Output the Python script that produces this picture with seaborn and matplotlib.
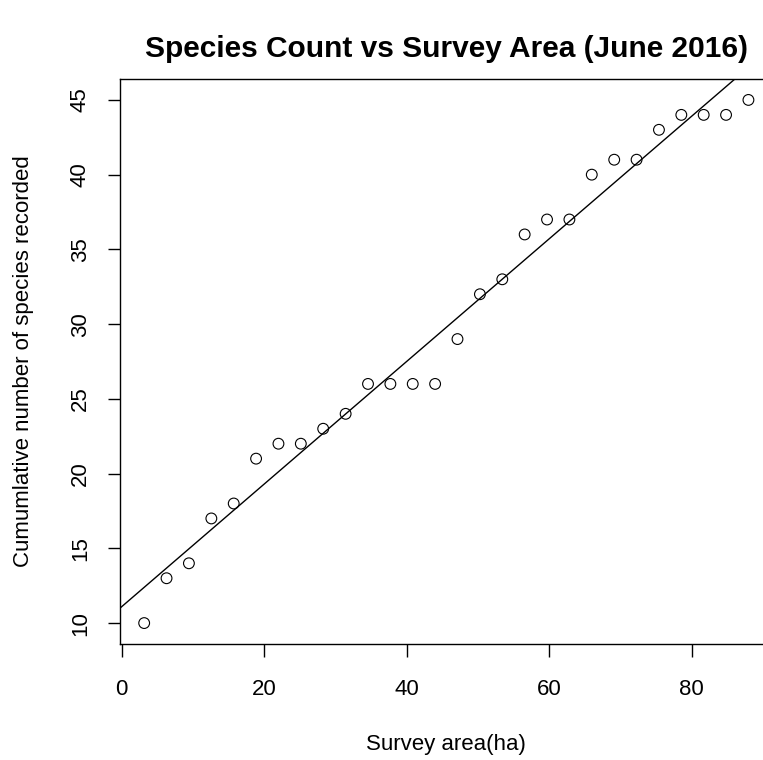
import numpy as np
import pandas as pd
import matplotlib
matplotlib.use('Agg')
import matplotlib.pyplot as plt
import seaborn as sns

# Survey data
area_ha = [3.14, 6.28, 9.42, 12.57, 15.71, 18.85, 21.99, 25.13, 28.27, 31.42,
           34.56, 37.70, 40.84, 43.98, 47.12, 50.27, 53.41, 56.55, 59.69, 62.83,
           65.97, 69.12, 72.26, 75.40, 78.54, 81.68, 84.82, 87.96]
species = [10, 13, 14, 17, 18, 21, 22, 22, 23, 24,
           26, 26, 26, 26, 29, 32, 33, 36, 37, 37,
           40, 41, 41, 43, 44, 44, 44, 45]
x_ticks = [0, 20, 40, 60, 80]
y_ticks = [10, 15, 20, 25, 30, 35, 40, 45]

df = pd.DataFrame({'area': area_ha, 'species': species})

sns.set_style('white')
plt.rcParams['font.family'] = ['Liberation Sans', 'DejaVu Sans']
plt.rcParams['text.color'] = 'black'
plt.rcParams['axes.labelcolor'] = 'black'
plt.rcParams['xtick.color'] = 'black'
plt.rcParams['ytick.color'] = 'black'

fig = plt.figure(figsize=(7.63, 7.60), dpi=100)
ax = fig.add_axes([120 / 763, 116 / 760, 652.6 / 763, 565 / 760])

# R-style 4% padding on the axis ranges
xr = max(area_ha) - min(area_ha)
yr = max(species) - min(species)
xlim = (min(area_ha) - 0.04 * xr, max(area_ha) + 0.04 * xr)
ylim = (min(species) - 0.04 * yr, max(species) + 0.04 * yr)
ax.set_xlim(*xlim)
ax.set_ylim(*ylim)

sns.scatterplot(data=df, x='area', y='species', ax=ax, marker='o', s=60,
                facecolors='none', edgecolor='black', linewidth=0.8)
sns.regplot(data=df, x='area', y='species', ax=ax, scatter=False, ci=None,
            truncate=False, color='black', line_kws={'linewidth': 1.0})
ax.set_xlim(*xlim)
ax.set_ylim(*ylim)

for s in ax.spines.values():
    s.set_color('black')
    s.set_linewidth(1.0)

ax.set_xticks(x_ticks)
ax.set_yticks(y_ticks)
ax.tick_params(axis='both', direction='out', length=9, width=1.0, color='black',
               labelsize=16, labelcolor='black', bottom=True, left=True, pad=12)
ax.tick_params(axis='x', pad=16)
plt.setp(ax.get_yticklabels(), rotation=90, va='center')

ax.set_xlabel('Survey area(ha)', fontsize=16, labelpad=25)
ax.set_ylabel('Cumumlative number of species recorded', fontsize=16, labelpad=26)
ax.set_title('Species Count vs Survey Area (June 2016)', fontsize=21.5,
             fontweight='bold', pad=16)

fig.savefig('out.png', dpi=100)
